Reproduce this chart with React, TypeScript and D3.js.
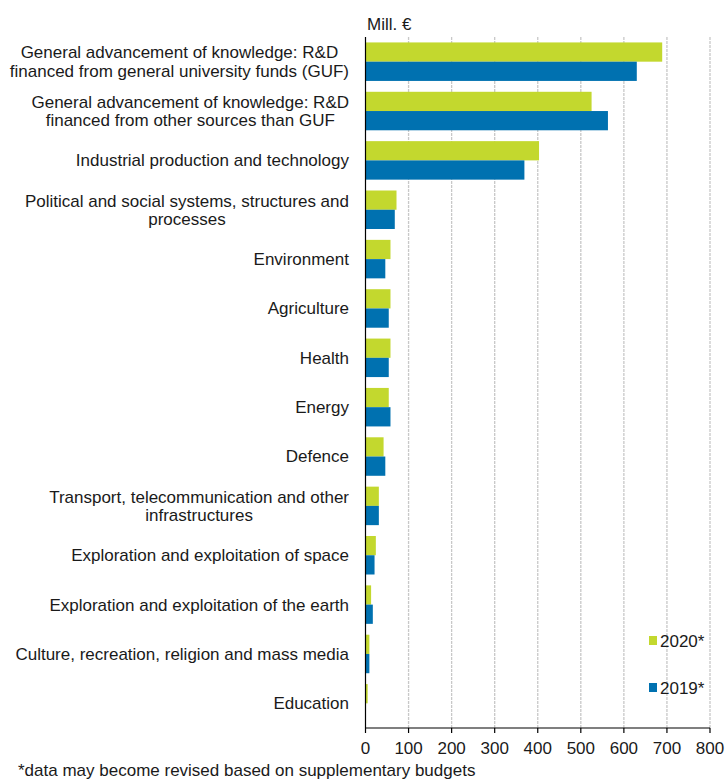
import React, { useEffect, useRef } from "react";
import * as d3 from "d3";

const categories: string[] = [
  "General advancement of knowledge: R&D\nfinanced from general university funds (GUF)",
  "General advancement of knowledge: R&D\nfinanced from other sources than GUF",
  "Industrial production and technology",
  "Political and social systems, structures and\nprocesses",
  "Environment",
  "Agriculture",
  "Health",
  "Energy",
  "Defence",
  "Transport, telecommunication and other\ninfrastructures",
  "Exploration and exploitation of space",
  "Exploration and exploitation of the earth",
  "Culture, recreation, religion and mass media",
  "Education",
];

const values2020: number[] = [689, 525, 403, 72, 58, 58, 58, 54, 42, 31, 24, 13, 9, 5];
const values2019: number[] = [630, 563, 369, 68, 46, 54, 54, 58, 46, 31, 21, 17, 9, 0];

const seriesNames: string[] = ["2020*", "2019*"];
const xTicks: number[] = [0, 100, 200, 300, 400, 500, 600, 700, 800];
const unitLabel = "Mill. €";
const footnote = "*data may become revised based on supplementary budgets";

const GREEN = "#c3d82e";
const BLUE = "#0071b0";
const FONT = "'Liberation Sans', Arial, sans-serif";

export default function App() {
  const ref = useRef<SVGSVGElement | null>(null);

  useEffect(() => {
    const svg = d3.select(ref.current);
    svg.selectAll("*").remove();

    const W = 727, H = 781;
    const left = 365.5, right = 710, top = 37, bottom = 728;

    const x = d3.scaleLinear().domain([0, 800]).range([left, right]);
    const y = d3
      .scaleBand<number>()
      .domain(d3.range(categories.length))
      .range([top, bottom])
      .paddingInner(0.22)
      .paddingOuter(0.11);
    const sub = d3.scaleBand<number>().domain([0, 1]).range([0, y.bandwidth()]);

    svg.attr("width", W).attr("height", H);

    // grid
    svg
      .append("g")
      .selectAll("line")
      .data(xTicks.slice(1))
      .join("line")
      .attr("x1", (d) => x(d))
      .attr("x2", (d) => x(d))
      .attr("y1", top)
      .attr("y2", bottom)
      .attr("stroke", "#c8c8c8")
      .attr("stroke-width", 1.3)
      .attr("stroke-dasharray", "3,1");

    // bars
    const series = [values2020, values2019];
    const colors = [GREEN, BLUE];
    series.forEach((vals, si) => {
      svg
        .append("g")
        .selectAll("rect")
        .data(vals)
        .join("rect")
        .attr("x", x(0))
        .attr("y", (_, i) => (y(i) as number) + (sub(si) as number))
        .attr("width", (d) => Math.max(0, x(d) - x(0)))
        .attr("height", sub.bandwidth())
        .attr("fill", colors[si]);
    });

    // axes lines
    svg
      .append("line")
      .attr("x1", left)
      .attr("x2", left)
      .attr("y1", top)
      .attr("y2", bottom)
      .attr("stroke", "#000")
      .attr("stroke-width", 1.2);
    svg
      .append("line")
      .attr("x1", left)
      .attr("x2", right)
      .attr("y1", bottom)
      .attr("y2", bottom)
      .attr("stroke", "#000")
      .attr("stroke-width", 1.2);

    const tg = svg.append("g");
    tg.selectAll("line")
      .data(xTicks)
      .join("line")
      .attr("x1", (d) => x(d))
      .attr("x2", (d) => x(d))
      .attr("y1", bottom)
      .attr("y2", bottom + 5)
      .attr("stroke", "#000")
      .attr("stroke-width", 1.2);
    tg.selectAll("text")
      .data(xTicks)
      .join("text")
      .attr("x", (d) => x(d))
      .attr("y", 754)
      .attr("text-anchor", "middle")
      .attr("font-family", FONT)
      .attr("font-size", 17)
      .attr("fill", "#1a1a1a")
      .text((d) => String(d));

    // category labels
    const labelRight = 349;
    categories.forEach((cat, i) => {
      const lines = cat.split("\n");
      const cy = (y(i) as number) + y.bandwidth() / 2;
      const lh = 18.3;
      const g = svg.append("g");
      const texts = lines.map((ln, k) =>
        g
          .append("text")
          .attr("y", cy + (k - (lines.length - 1) / 2) * lh)
          .attr("dy", "0.35em")
          .attr("font-family", FONT)
          .attr("font-size", 17)
          .attr("fill", "#1a1a1a")
          .text(ln)
      );
      const widths = texts.map((t) => (t.node() as SVGTextElement).getComputedTextLength());
      const maxW = Math.max(...widths);
      const cx = labelRight - maxW / 2;
      texts.forEach((t) => t.attr("x", cx).attr("text-anchor", "middle"));
    });

    // unit label
    svg
      .append("text")
      .attr("x", 367)
      .attr("y", 30)
      .attr("font-family", FONT)
      .attr("font-size", 17)
      .attr("fill", "#1a1a1a")
      .text(unitLabel);

    // legend
    const legY = [641, 688];
    seriesNames.forEach((name, si) => {
      svg
        .append("rect")
        .attr("x", 649)
        .attr("y", legY[si] - 5)
        .attr("width", 8)
        .attr("height", 9)
        .attr("fill", colors[si]);
      svg
        .append("text")
        .attr("x", 660)
        .attr("y", legY[si])
        .attr("dy", "0.35em")
        .attr("font-family", FONT)
        .attr("font-size", 17)
        .attr("fill", "#1a1a1a")
        .text(name);
    });

    // footnote
    svg
      .append("text")
      .attr("x", 18)
      .attr("y", 776)
      .attr("font-family", FONT)
      .attr("font-size", 17)
      .attr("fill", "#1a1a1a")
      .text(footnote);
  }, []);

  return (
    <svg
      ref={ref}
      style={{ position: "absolute", left: 0, top: 0, background: "#fff" }}
    />
  );
}
